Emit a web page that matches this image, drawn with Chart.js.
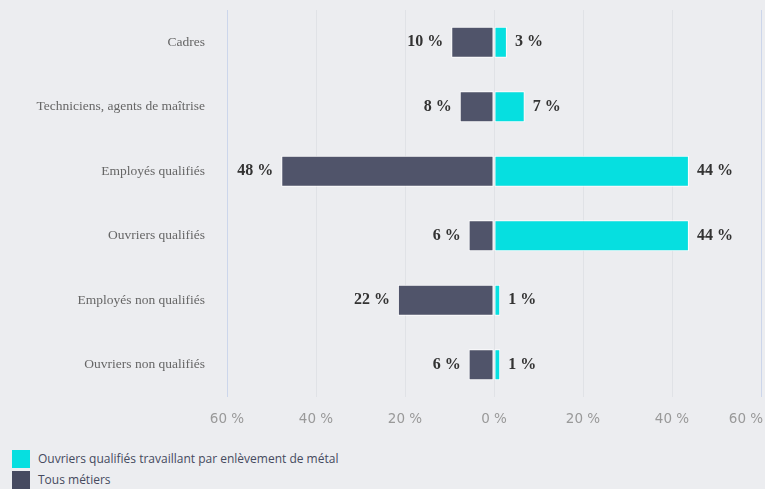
<!DOCTYPE html>
<html lang="fr">
<head>
<meta charset="utf-8">
<script src="https://cdn.jsdelivr.net/npm/chart.js@4/dist/chart.umd.min.js"></script>
<style>
  html, body { margin: 0; padding: 0; background: #ecedf0; }
  #wrap { position: relative; width: 765px; height: 440px; }
  #legend { margin: 8px 0 0 12px; font: 12px "Open Sans", sans-serif; color: #454a5e; }
  .item { display: flex; align-items: center; height: 21px; }
  .box { width: 18px; height: 18px; margin-right: 8px; }
</style>
</head>
<body>
<div id="wrap"><canvas id="chart" width="765" height="440"></canvas></div>
<div id="legend"></div>
<script>
const categories = ['Cadres', 'Techniciens, agents de maîtrise', 'Employés qualifiés', 'Ouvriers qualifiés', 'Employés non qualifiés', 'Ouvriers non qualifiés'];
const metalLabel = 'Ouvriers qualifiés travaillant par enlèvement de métal';
const allLabel = 'Tous métiers';
// bar lengths; labels show them rounded
const metalValues = [2.9, 6.9, 43.8, 43.8, 1.4, 1.4];
const allValues = [9.6, 7.7, 47.8, 5.7, 21.6, 5.7];
const xTicks = [-60, -40, -20, 0, 20, 40, 60];

const CYAN = '#06dfe0';
const DARK = '#50546a';

// labels next to the bar ends
const valueLabels = {
  id: 'valueLabels',
  afterDatasetsDraw(chart) {
    const ctx = chart.ctx;
    ctx.save();
    ctx.font = 'bold 16px "Liberation Serif", serif';
    ctx.fillStyle = '#333';
    ctx.textBaseline = 'middle';
    chart.data.datasets.forEach((ds, i) => {
      chart.getDatasetMeta(i).data.forEach((bar, j) => {
        const v = ds.data[j];
        const txt = Math.round(Math.abs(v)) + ' %';
        if (v < 0) {
          ctx.textAlign = 'right';
          ctx.fillText(txt, bar.x - 8, bar.y);
        } else {
          ctx.textAlign = 'left';
          ctx.fillText(txt, bar.x + 8, bar.y);
        }
      });
    });
    ctx.restore();
  }
};

new Chart(document.getElementById('chart'), {
  type: 'bar',
  data: {
    labels: categories,
    datasets: [
      {
        label: metalLabel,
        data: metalValues,
        backgroundColor: CYAN,
        borderColor: '#ffffff',
        borderWidth: 1,
        borderSkipped: false
      },
      {
        label: allLabel,
        data: allValues.map(v => -v),
        backgroundColor: DARK,
        borderColor: '#ffffff',
        borderWidth: 1,
        borderSkipped: false
      }
    ]
  },
  options: {
    indexAxis: 'y',
    responsive: false,
    animation: false,
    layout: { padding: { top: 10, right: 4, left: 0, bottom: 0 } },
    plugins: {
      legend: { display: false },
      tooltip: { enabled: false }
    },
    datasets: {
      bar: { categoryPercentage: 1, barPercentage: 0.48 }
    },
    scales: {
      x: {
        stacked: true,
        min: -60,
        max: 60,
        afterBuildTicks(scale) {
          scale.ticks = xTicks.map(v => ({ value: v }));
        },
        afterFit(scale) {
          scale.height = 43;
          scale.paddingLeft = 0;
          scale.paddingRight = 0;
          scale.paddingTop = 0;
          scale.paddingBottom = 0;
        },
        grid: {
          drawTicks: false,
          color: c => Math.abs(c.tick.value) === 60 ? '#ccd6eb' : '#e0e2e6'
        },
        border: { display: false },
        ticks: {
          padding: 14,
          maxRotation: 0,
          color: '#999',
          font: { family: '"DejaVu Sans", sans-serif', size: 13.5 },
          callback: (v, i, ticks) => {
            const s = Math.abs(v) + ' %';
            // last label sits against the right edge
            return i === ticks.length - 1 ? s + '\u00a0\u00a0\u00a0\u00a0\u00a0\u00a0\u00a0' : s;
          }
        }
      },
      y: {
        stacked: true,
        afterFit(scale) {
          scale.width = 227;
          scale.paddingTop = 0;
          scale.paddingBottom = 0;
        },
        grid: { display: false, drawTicks: false },
        border: { display: false },
        ticks: {
          padding: 22,
          color: '#666',
          font: { family: '"Liberation Serif", serif', size: 13.5 }
        }
      }
    }
  },
  plugins: [valueLabels]
});

// legend, one item per line
const legend = document.getElementById('legend');
[[metalLabel, CYAN], [allLabel, '#464a60']].forEach(([name, col]) => {
  const row = document.createElement('div');
  row.className = 'item';
  row.innerHTML = '<span class="box" style="background:' + col + '"></span><span>' + name + '</span>';
  legend.appendChild(row);
});
</script>
</body>
</html>
